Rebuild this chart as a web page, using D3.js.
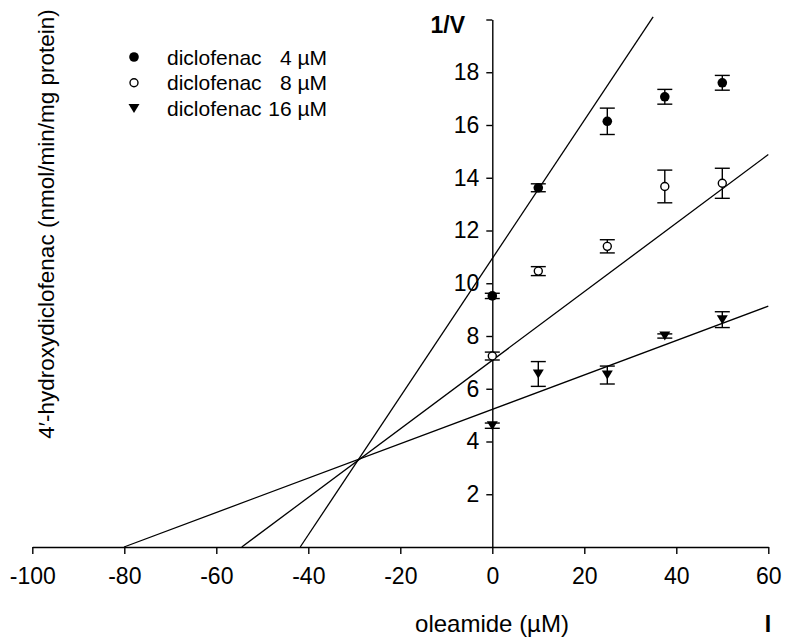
<!DOCTYPE html>
<html lang="en">
<head>
<meta charset="UTF-8">
<title>Dixon plot</title>
<script src="https://cdn.jsdelivr.net/npm/d3@7"></script>
<style>
body { margin: 0; background: #fff; }
svg { display: block; font-family: "Liberation Sans", Arial, sans-serif; }
.axis text { font-size: 23px; fill: #000; }
.axis path, .axis line { stroke: #000; stroke-width: 1.4px; }
.fit { fill: none; stroke: #000; stroke-width: 1.3px; }
.err { stroke: #000; stroke-width: 1.4px; }
</style>
</head>
<body>
<svg width="789" height="639"></svg>
<script>
// oleamide concentrations (µM)
var conc = [0, 10, 25, 37.5, 50];

// 1/V values and error bars, one array per diclofenac concentration
var inv4 = [9.52, 13.62, 16.14, 17.07, 17.60];
var err4 = [0.10, 0.15, 0.50, 0.28, 0.28];
var inv8 = [7.24, 10.46, 11.40, 13.67, 13.79];
var err8 = [0.15, 0.17, 0.25, 0.62, 0.57];
var inv16 = [4.60, 6.56, 6.52, 8.00, 8.62];
var err16 = [0.10, 0.47, 0.34, 0.08, 0.30];

// regression lines: 1/V = intercept + slope * I
var fitIntercept = [10.94, 7.08, 5.22];
var fitSlope = [0.262, 0.130, 0.0652];

var seriesNames = ["diclofenac", "diclofenac", "diclofenac"];
var seriesDose = ["4 \u00b5M", "8 \u00b5M", "16 \u00b5M"];

var xTicks = [-100, -80, -60, -40, -20, 0, 20, 40, 60];
var yTicks = [2, 4, 6, 8, 10, 12, 14, 16, 18, 20];

var svg = d3.select("svg");

var x = d3.scaleLinear().domain([-100, 60]).range([32.3, 768.3]);
var y = d3.scaleLinear().domain([0, 20]).range([547, 19.5]);

// fitted lines, from the x intercept up to the right edge or the top
var g = svg.append("g");
fitIntercept.forEach(function(b, i) {
	var m = fitSlope[i];
	var x0 = -b / m;
	var x1 = Math.min(60, (20.1 - b) / m);
	g.append("path")
		.attr("class", "fit")
		.attr("d", d3.line()([[x(x0), y(0)], [x(x1), y(b + m * x1)]]));
});

// axes (plain hyphen for negatives, like the original)
svg.append("g")
	.attr("class", "axis")
	.attr("transform", "translate(0," + y(0) + ")")
	.call(d3.axisBottom(x).tickValues(xTicks).tickSize(7).tickSizeOuter(0).tickPadding(14)
		.tickFormat(function(d) { return String(d); }));

svg.append("g")
	.attr("class", "axis")
	.attr("transform", "translate(" + x(0) + ",0)")
	.call(d3.axisLeft(y).tickValues(yTicks).tickSize(6).tickSizeOuter(0).tickPadding(7)
		.tickFormat(function(d) { return d == 20 ? "" : d; }));

// markers
var triangle = function(cx, cy) {
	return "M" + (cx - 5.5) + "," + (cy - 4.5) + "L" + (cx + 5.5) + "," + (cy - 4.5) + "L" + cx + "," + (cy + 4.5) + "Z";
};

var drawMarker = function(sel, kind, cx, cy) {
	if (kind == 0) {
		sel.append("circle").attr("cx", cx).attr("cy", cy).attr("r", 4.8).attr("fill", "#000");
	} else if (kind == 1) {
		sel.append("circle").attr("cx", cx).attr("cy", cy).attr("r", 4.0)
			.attr("fill", "#fff").attr("stroke", "#000").attr("stroke-width", 1.4);
	} else {
		sel.append("path").attr("d", triangle(cx, cy)).attr("fill", "#000");
	}
};

var allVals = [inv4, inv8, inv16];
var allErr = [err4, err8, err16];
allVals.forEach(function(vals, k) {
	var s = svg.append("g");
	vals.forEach(function(v, j) {
		var cx = x(conc[j]);
		var e = allErr[k][j];
		var top = y(v + e), bot = y(v - e);
		s.append("line").attr("class", "err").attr("x1", cx).attr("x2", cx).attr("y1", top).attr("y2", bot);
		s.append("line").attr("class", "err").attr("x1", cx - 7.5).attr("x2", cx + 7.5).attr("y1", top).attr("y2", top);
		s.append("line").attr("class", "err").attr("x1", cx - 7.5).attr("x2", cx + 7.5).attr("y1", bot).attr("y2", bot);
		drawMarker(s, k, cx, y(v));
	});
});

// legend
var leg = svg.append("g");
seriesNames.forEach(function(name, i) {
	var ly = 57 + i * 25.7;
	drawMarker(leg, i, 134, ly);
	leg.append("text").attr("x", 167).attr("y", ly + 7.5)
		.style("font-size", "21px").text(name);
	leg.append("text").attr("x", 327).attr("y", ly + 7.5)
		.attr("text-anchor", "end").style("font-size", "21px").text(seriesDose[i]);
});

// titles
svg.append("text").attr("x", 465).attr("y", 33)
	.attr("text-anchor", "end").style("font-size", "23px").style("font-weight", "bold").text("1/V");

svg.append("text").attr("x", 492).attr("y", 632)
	.attr("text-anchor", "middle").style("font-size", "24px").text("oleamide (\u00b5M)");

svg.append("text").attr("x", 768).attr("y", 632)
	.attr("text-anchor", "middle").style("font-size", "23px").style("font-weight", "bold").text("I");

svg.append("text")
	.attr("transform", "translate(54,224) rotate(-90)")
	.attr("text-anchor", "middle").style("font-size", "22.5px")
	.text("4\u2032-hydroxydiclofenac (nmol/min/mg protein)");
</script>
</body>
</html>
